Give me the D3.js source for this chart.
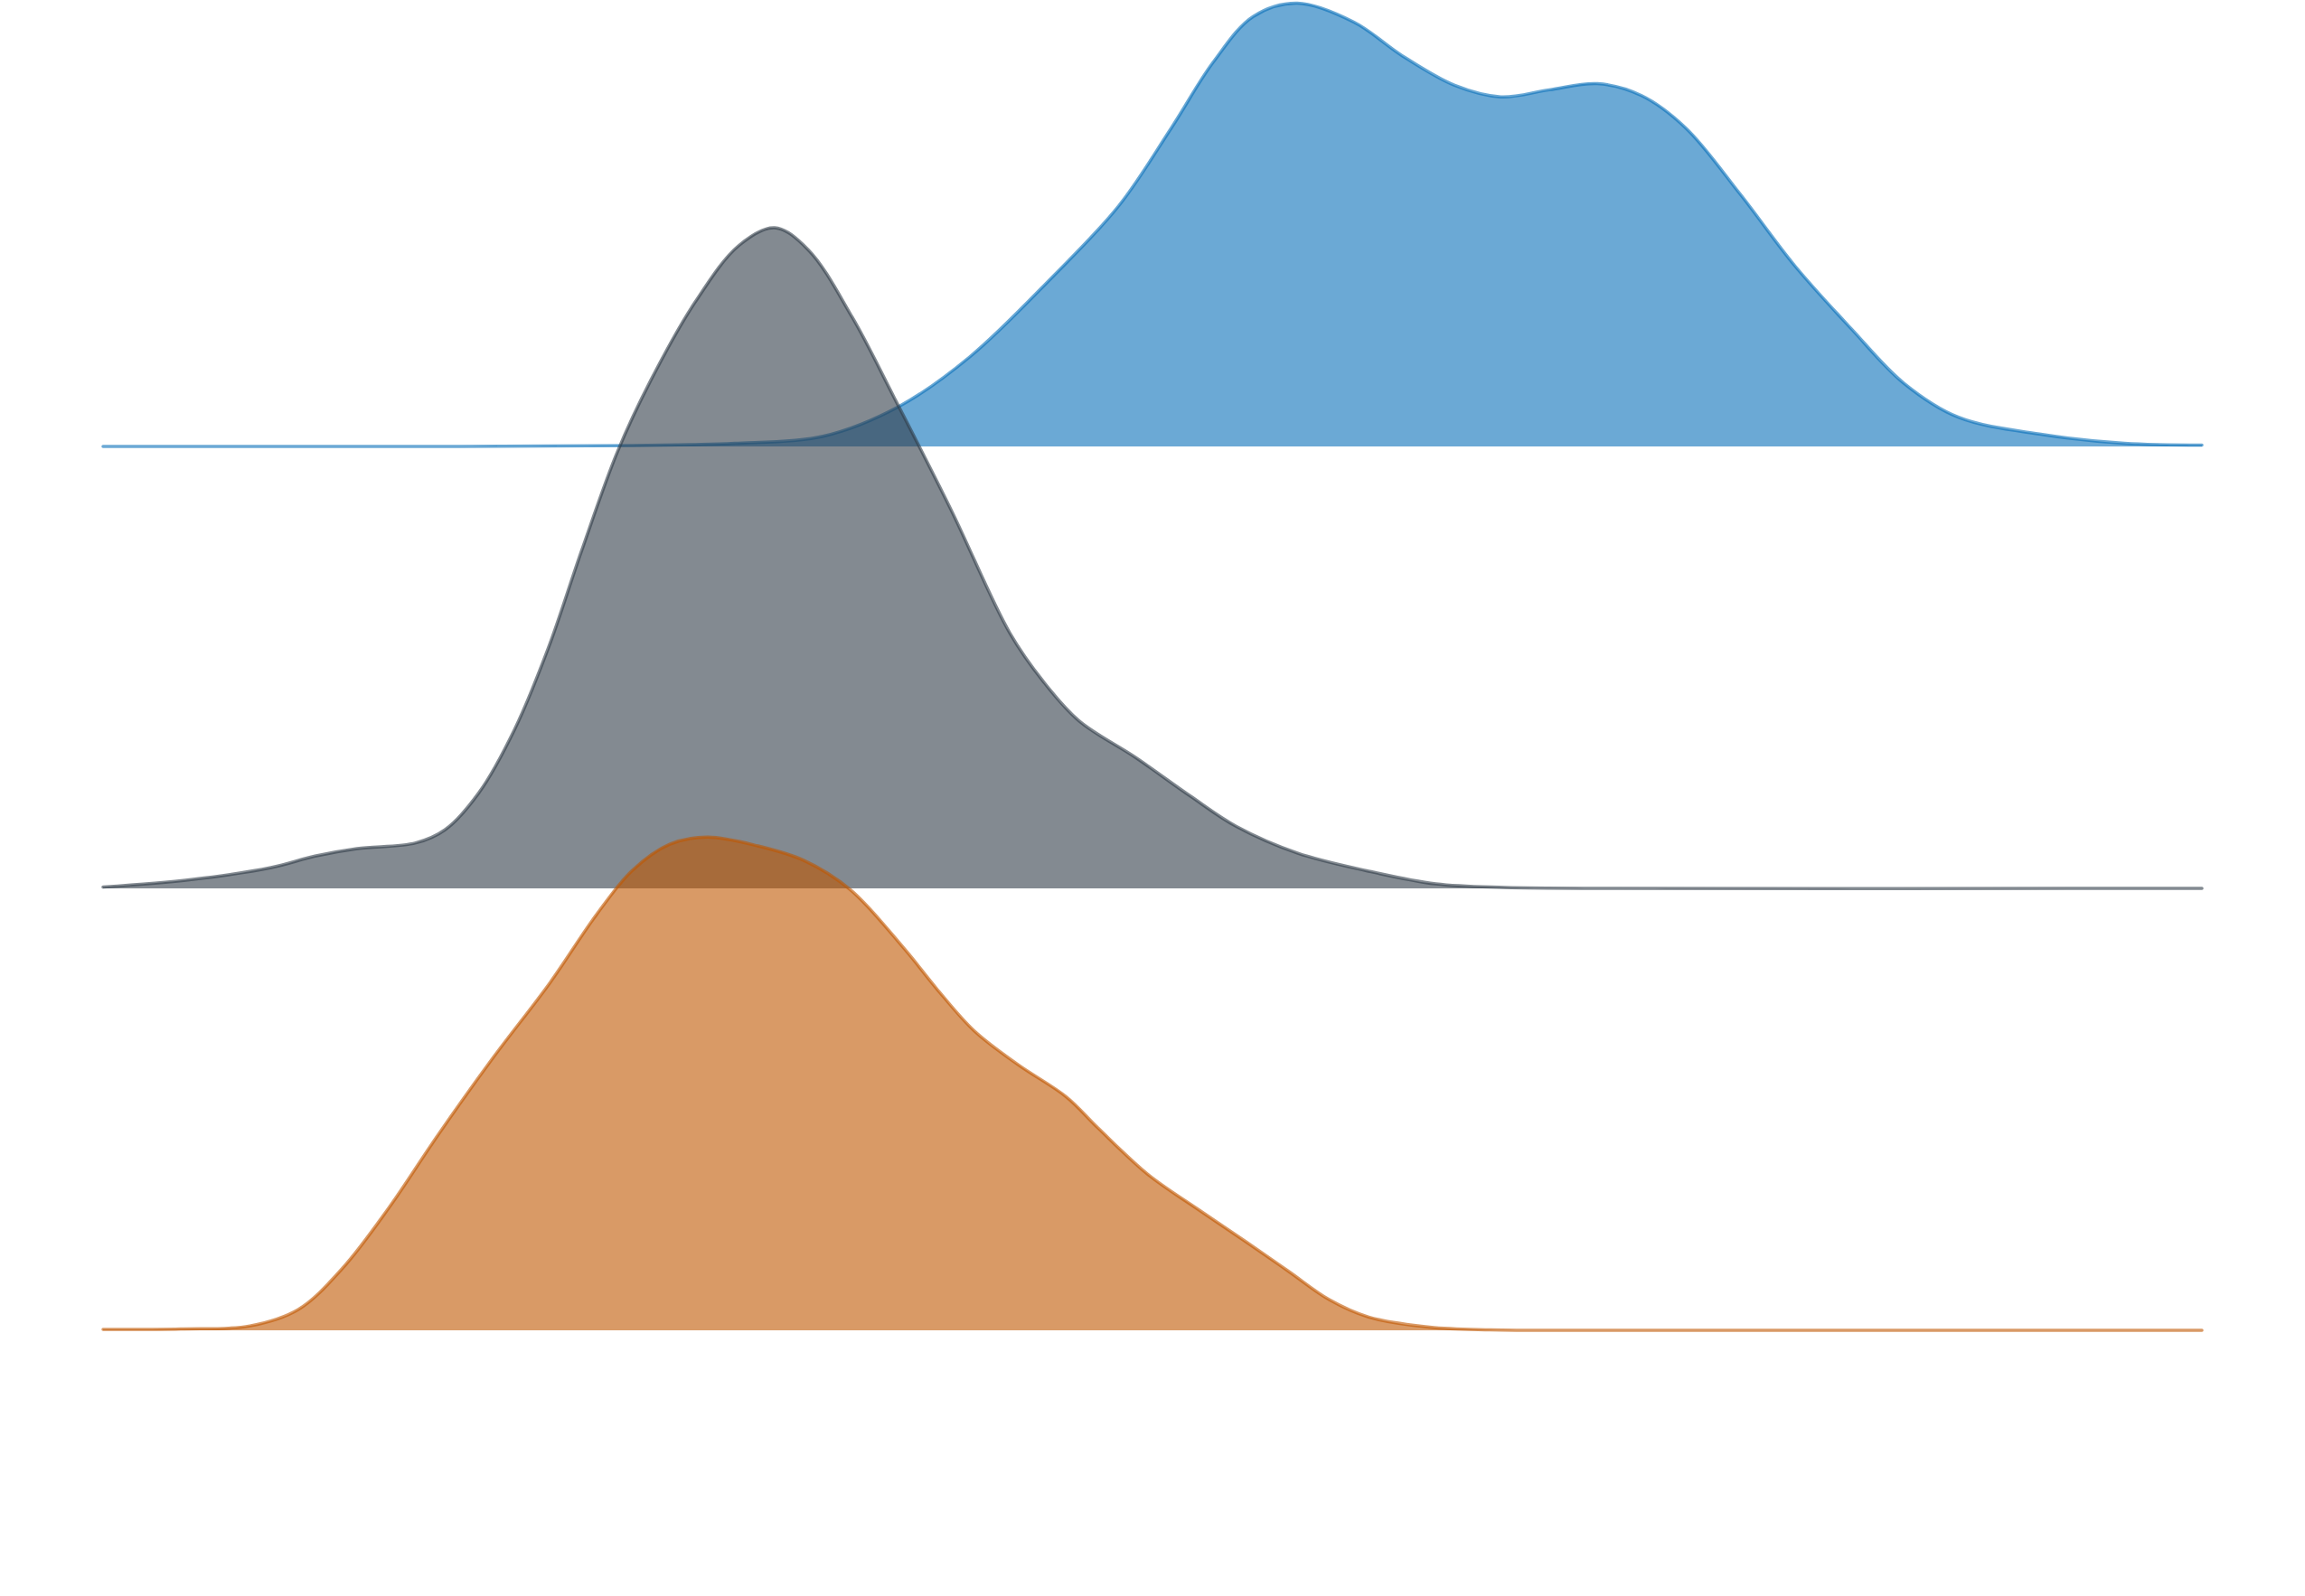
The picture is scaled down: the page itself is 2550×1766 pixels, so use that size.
<!DOCTYPE html>
<html>
<head>
<meta charset="utf-8">
<script src="https://cdn.jsdelivr.net/npm/d3@7"></script>
<style>
  body { margin: 0; background: #fff; }
  svg { display: block; }
</style>
</head>
<body>
<svg id="chart"></svg>
<script>
// ridgeline groups, top to bottom
const groups = ['top', 'middle', 'bottom'];

// density curves (x on a 0-100 axis)
const topX = [0, 16.1, 25.2, 28.0, 30.1, 34.3, 37.9, 41.3, 45.2, 48.4, 50.9, 52.9, 54.8, 56.9, 59.6,
  61.9, 64.4, 66.6, 68.9, 71.2, 73.3, 75.4, 78.0, 80.6, 83.3, 85.8, 88.4, 92.4, 96.3, 100];
const topDensity = [0, 0, 0.002, 0.004, 0.007, 0.023, 0.090, 0.203, 0.382, 0.545, 0.721, 0.870, 0.973, 1.003, 0.960,
  0.884, 0.817, 0.791, 0.807, 0.821, 0.794, 0.721, 0.571, 0.409, 0.266, 0.143, 0.066, 0.027, 0.007, 0.003];

const middleX = [0, 4.2, 8.0, 10.1, 12.1, 14.9, 16.3, 17.9, 19.6, 21.2, 22.8, 24.5, 26.1, 28.2, 30.3, 32.0,
  33.6, 35.7, 37.7, 40.4, 43.2, 44.8, 46.5, 49.2, 51.8, 54.0, 56.9, 60.2, 63.5, 66.8, 72.2, 100];
const middleDensity = [0.003, 0.020, 0.047, 0.073, 0.090, 0.103, 0.133, 0.216, 0.359, 0.542, 0.764, 0.987, 1.150, 1.326, 1.455, 1.495,
  1.445, 1.292, 1.110, 0.857, 0.578, 0.468, 0.379, 0.296, 0.209, 0.140, 0.080, 0.040, 0.010, 0.002, 0, 0];

const bottomX = [0, 3.7, 7.0, 9.3, 11.4, 13.6, 16.0, 18.6, 21.3, 23.5, 25.2, 27.0, 28.8, 31.2, 33.4, 35.6,
  38.2, 39.7, 41.5, 43.6, 45.9, 47.4, 49.8, 52.1, 54.5, 56.5, 58.4, 60.3, 63.2, 66.1, 72.2, 100];
const bottomDensity = [0.002, 0.003, 0.010, 0.047, 0.140, 0.276, 0.445, 0.618, 0.787, 0.940, 1.040, 1.100, 1.116, 1.096, 1.063, 0.997,
  0.862, 0.774, 0.678, 0.601, 0.528, 0.458, 0.352, 0.276, 0.199, 0.133, 0.070, 0.030, 0.007, 0.001, 0, 0];

const series = [
  {group: 'top', xs: topX, ys: topDensity},
  {group: 'middle', xs: middleX, ys: middleDensity},
  {group: 'bottom', xs: bottomX, ys: bottomDensity}
];

let svg = d3.select('#chart')
    .attr('width', 2550)
    .attr('height', 1766),
  margin = {top: 494, right: 114, bottom: 294, left: 114},
  width = +svg.attr('width') - margin.left - margin.right,
  height = +svg.attr('height') - margin.top - margin.bottom;

let color = d3.scaleOrdinal()
  .domain(groups)
  .range(['#0870b9', '#303c48', '#c05700']);

let xScale = d3.scaleLinear()
  .domain([0, 100])
  .range([margin.left, margin.left + width]);

// baselines of the ridges
let yBase = d3.scalePoint()
  .domain(groups)
  .range([margin.top, margin.top + height]);

// one density unit is one ridge step tall
let hScale = d3.scaleLinear()
  .domain([0, 1])
  .range([0, yBase.step()]);

let curve = d3.curveCatmullRom.alpha(0.5);

series.forEach((s) => {
  let base = yBase(s.group);
  let pts = s.xs.map((x, i) => ({x: x, y: s.ys[i]}));

  let area = d3.area()
    .curve(curve)
    .x((d) => xScale(d.x))
    .y0(base)
    .y1((d) => Math.min(base, base - hScale(d.y)));

  let line = d3.line()
    .curve(curve)
    .x((d) => xScale(d.x))
    .y((d) => base - hScale(d.y));

  let g = svg.append('g').attr('class', 'ridge ' + s.group);

  g.append('path')
    .datum(pts)
    .attr('d', area)
    .attr('fill', color(s.group))
    .attr('fill-opacity', 0.6);

  g.append('path')
    .datum(pts)
    .attr('d', line)
    .attr('fill', 'none')
    .attr('stroke', color(s.group))
    .attr('stroke-opacity', 0.6)
    .attr('stroke-width', 3.5)
    .attr('stroke-linecap', 'round')
    .attr('stroke-linejoin', 'round');
});
</script>
</body>
</html>
